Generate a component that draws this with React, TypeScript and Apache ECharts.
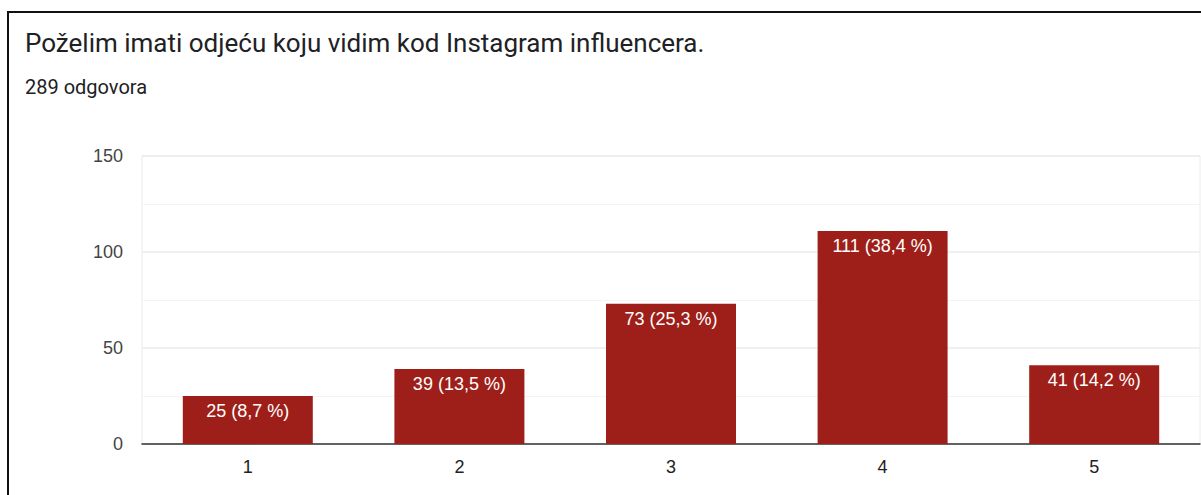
import React, { useEffect, useRef } from "react";
import * as echarts from "echarts";

const titleText = "Poželim imati odjeću koju vidim kod Instagram influencera.";
const subtitleText = "289 odgovora";
const categories = ["1", "2", "3", "4", "5"];
const counts = [25, 39, 73, 111, 41];
const percents = ["8,7", "13,5", "25,3", "38,4", "14,2"];

const ARIAL = 'Arial, "Liberation Sans", sans-serif';

export default function App() {
  const ref = useRef<HTMLDivElement>(null);
  useEffect(() => {
    if (!ref.current) return;
    const chart = echarts.init(ref.current, undefined, { renderer: "svg" });
    chart.setOption({
      animation: false,
      backgroundColor: "#ffffff",
      title: [
        {
          text: titleText,
          left: 25,
          top: 30,
          padding: 0,
          textStyle: { fontFamily: "Roboto", fontSize: 26, fontWeight: "normal", color: "#202124" },
        },
        {
          text: subtitleText,
          left: 25,
          top: 77,
          padding: 0,
          textStyle: { fontFamily: "Roboto", fontSize: 20, fontWeight: "normal", color: "#202124" },
        },
      ],
      graphic: [
        { type: "line", shape: { x1: 7, y1: 12, x2: 1201, y2: 12 }, style: { stroke: "#111", lineWidth: 2 } },
        { type: "line", shape: { x1: 8, y1: 11, x2: 8, y2: 495 }, style: { stroke: "#111", lineWidth: 2 } },
      ],
      grid: {
        left: 142,
        right: 1,
        top: 156,
        bottom: 51,
        show: true,
        borderColor: "#ebebeb",
        borderWidth: 1,
      },
      xAxis: {
        type: "category",
        data: categories,
        axisLine: { show: true, lineStyle: { color: "#333", width: 1.5 } },
        axisTick: { show: false },
        axisLabel: { fontFamily: ARIAL, fontSize: 18, color: "#222", margin: 14 },
        splitLine: { show: false },
      },
      yAxis: {
        type: "value",
        min: 0,
        max: 150,
        interval: 50,
        axisLine: { show: false },
        axisTick: { show: false },
        axisLabel: { fontFamily: ARIAL, fontSize: 18, color: "#444", margin: 19 },
        splitLine: { show: true, lineStyle: { color: "#ebebeb", width: 1.5 } },
        minorTick: { show: false, splitNumber: 2 },
        minorSplitLine: { show: true, lineStyle: { color: "#f3f3f3", width: 1 } },
      },
      series: [
        {
          type: "bar",
          data: counts,
          barWidth: 130,
          itemStyle: { color: "#9e1f19" },
          label: {
            show: true,
            position: "insideTop",
            distance: 6,
            fontFamily: ARIAL,
            fontSize: 18,
            color: "#ffffff",
            formatter: (p: any) => `${counts[p.dataIndex]} (${percents[p.dataIndex]} %)`,
          },
        },
      ],
    });
    return () => chart.dispose();
  }, []);
  return (
    <div
      ref={ref}
      style={{ position: "absolute", left: 0, top: 0, width: 1201, height: 495 }}
    />
  );
}
